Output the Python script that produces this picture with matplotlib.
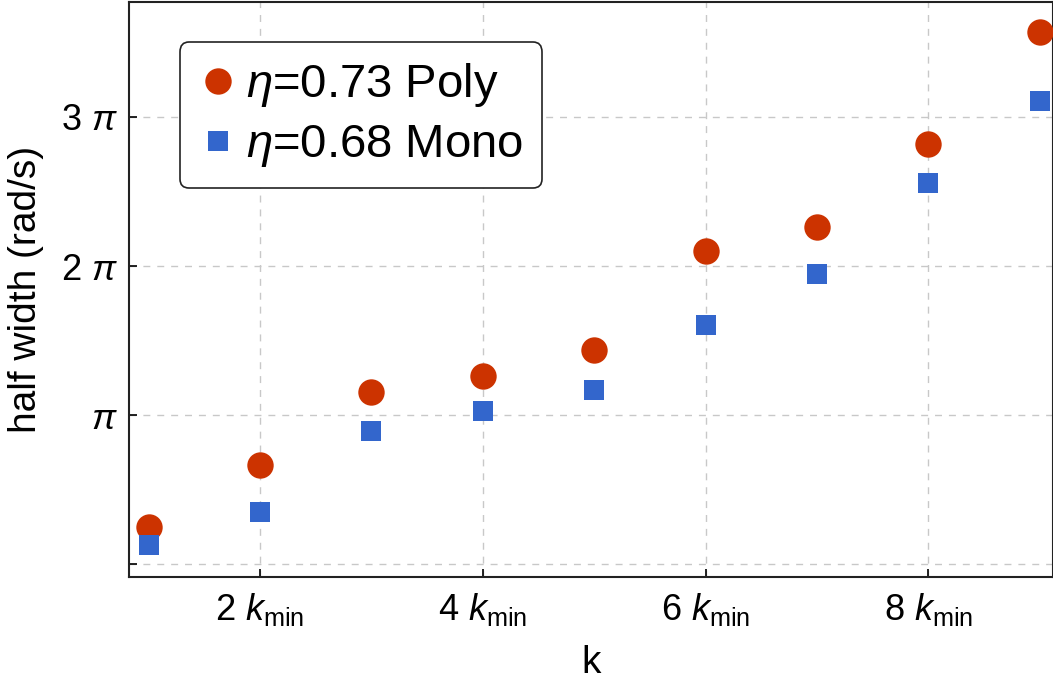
import matplotlib
matplotlib.use("Agg")
import matplotlib.pyplot as plt
import numpy as np

plt.rcParams['font.family'] = 'Liberation Sans'
plt.rcParams['mathtext.fontset'] = 'custom'
plt.rcParams['mathtext.rm'] = 'Liberation Sans'
plt.rcParams['mathtext.it'] = 'Liberation Sans:italic'

# data (half width in rad/s)
k = [1, 2, 3, 4, 5, 6, 7, 8, 9]
poly = [0.79, 2.10, 3.63, 3.96, 4.51, 6.60, 7.10, 8.85, 11.21]
mono = [0.41, 1.11, 2.81, 3.23, 3.67, 5.04, 6.11, 8.03, 9.77]

xticks = [2, 4, 6, 8]
xlabels = ['2 $k_{\\mathrm{min}}$', '4 $k_{\\mathrm{min}}$', '6 $k_{\\mathrm{min}}$', '8 $k_{\\mathrm{min}}$']
yticks = [0, np.pi, 2 * np.pi, 3 * np.pi]
ylabels = ['', '$\\pi$', '2 $\\pi$', '3 $\\pi$']

fig = plt.figure(figsize=(10.53, 6.83), dpi=100)
ax = fig.add_axes([0.1225, 0.155, 0.8775, 0.842])

ax.plot(k, poly, 'o', color='#CC3300', markersize=19, markeredgewidth=0,
        label='$\\eta$=0.73 Poly', zorder=3)
ax.plot(k, mono, 's', color='#3366CC', markersize=14, markeredgewidth=0,
        label='$\\eta$=0.68 Mono', zorder=3)

ax.set_xlim(0.823, 9.12)
ax.set_ylim(-0.085 * np.pi, 3.77 * np.pi)
ax.set_xticks(xticks)
ax.set_xticklabels(xlabels)
ax.set_yticks(yticks)
ax.set_yticklabels(ylabels)
ax.tick_params(direction='in', labelsize=26, length=6, width=1.2)
ax.tick_params(axis='x', pad=10)
ax.tick_params(axis='y', pad=8)
ax.grid(True, linestyle=(0, (5, 5)), color='#c8c8c8', linewidth=1)
for s in ax.spines.values():
    s.set_linewidth(1.5)
    s.set_color('#222222')

ax.set_xlabel('k', fontsize=28, labelpad=12)
ax.set_ylabel('half width (rad/s)', fontsize=28, labelpad=12)

leg = ax.legend(loc='upper left', bbox_to_anchor=(0.055, 0.93), fontsize=34,
                frameon=True, fancybox=True, edgecolor='#222222',
                framealpha=1, handletextpad=0.2, borderpad=0.4,
                handlelength=0.8, labelspacing=0.3, borderaxespad=0)
leg.get_frame().set_linewidth(1.2)

fig.savefig('out.png', dpi=100)
